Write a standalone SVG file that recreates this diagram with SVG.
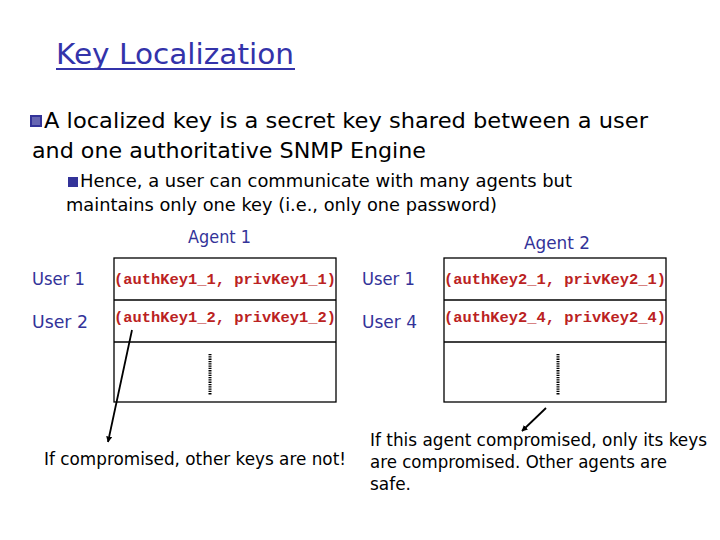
<svg xmlns="http://www.w3.org/2000/svg" width="720" height="540" viewBox="0 0 720 540">
<style>
.t{font-family:"DejaVu Sans","Liberation Sans",sans-serif}
.blue{fill:#333399}
.key{font-family:"Liberation Mono",monospace;font-weight:bold;font-size:15px;fill:#bb2222}
.tab{fill:none;stroke:#000;stroke-width:1.3}
.bul{fill:#333399}
</style>
<defs>
<marker id="ah" viewBox="0 0 10 10" refX="9" refY="5" markerWidth="6" markerHeight="6" orient="auto" markerUnits="userSpaceOnUse">
<path d="M0,0 L10,5 L0,10 z" fill="#000"/>
</marker>
</defs>
<rect width="720" height="540" fill="#fff"/>
<g id="title">
<text class="t" x="56" y="64" font-size="28" fill="#3333aa" textLength="238" lengthAdjust="spacingAndGlyphs">Key Localization</text>
<rect x="56" y="68" width="239" height="2" fill="#3333aa"/>
</g>
<g id="bullets">
<rect class="bul" x="30" y="115" width="12" height="12"/>
<rect x="32" y="117" width="8" height="8" fill="#fff" opacity="0.25"/>
<text class="t" x="44" y="128" font-size="22" textLength="604" lengthAdjust="spacingAndGlyphs">A localized key is a secret key shared between a user</text>
<text class="t" x="32" y="158" font-size="22" textLength="394" lengthAdjust="spacingAndGlyphs">and one authoritative SNMP Engine</text>
<rect class="bul" x="68" y="177" width="10" height="10"/>
<text class="t" x="80" y="187" font-size="17" textLength="492" lengthAdjust="spacingAndGlyphs">Hence, a user can communicate with many agents but</text>
<text class="t" x="66" y="211" font-size="17" textLength="431" lengthAdjust="spacingAndGlyphs">maintains only one key (i.e., only one password)</text>
</g>
<g id="agent1">
<text class="t blue" x="188" y="243" font-size="17" textLength="63" lengthAdjust="spacingAndGlyphs">Agent 1</text>
<text class="t blue" x="32" y="285" font-size="17" textLength="53" lengthAdjust="spacingAndGlyphs">User 1</text>
<text class="t blue" x="32" y="328" font-size="17" textLength="56" lengthAdjust="spacingAndGlyphs">User 2</text>
<rect class="tab" x="114" y="258" width="222" height="144"/>
<line class="tab" x1="114" y1="300" x2="336" y2="300"/>
<line class="tab" x1="114" y1="342" x2="336" y2="342"/>
<text class="key" x="114" y="284" textLength="222" lengthAdjust="spacingAndGlyphs">(authKey1_1, privKey1_1)</text>
<text class="key" x="114" y="322" textLength="222" lengthAdjust="spacingAndGlyphs">(authKey1_2, privKey1_2)</text>
<line x1="210" y1="354" x2="210" y2="395" stroke="#000" stroke-width="3" stroke-dasharray="1.3,1"/>
</g>
<g id="agent2">
<text class="t blue" x="524" y="249" font-size="17" textLength="66" lengthAdjust="spacingAndGlyphs">Agent 2</text>
<text class="t blue" x="362" y="285" font-size="17" textLength="53" lengthAdjust="spacingAndGlyphs">User 1</text>
<text class="t blue" x="362" y="328" font-size="17" textLength="55" lengthAdjust="spacingAndGlyphs">User 4</text>
<rect class="tab" x="444" y="258" width="222" height="144"/>
<line class="tab" x1="444" y1="300" x2="666" y2="300"/>
<line class="tab" x1="444" y1="342" x2="666" y2="342"/>
<text class="key" x="444" y="284" textLength="222" lengthAdjust="spacingAndGlyphs">(authKey2_1, privKey2_1)</text>
<text class="key" x="444" y="322" textLength="222" lengthAdjust="spacingAndGlyphs">(authKey2_4, privKey2_4)</text>
<line x1="558" y1="354" x2="558" y2="395" stroke="#000" stroke-width="3" stroke-dasharray="1.3,1"/>
</g>
<g id="notes">
<text class="t" x="44" y="465" font-size="17" textLength="302" lengthAdjust="spacingAndGlyphs">If compromised, other keys are not!</text>
<text class="t" x="370" y="446" font-size="17" textLength="337" lengthAdjust="spacingAndGlyphs">If this agent compromised, only its keys</text>
<text class="t" x="370" y="468" font-size="17" textLength="297" lengthAdjust="spacingAndGlyphs">are compromised. Other agents are</text>
<text class="t" x="370" y="490" font-size="17" textLength="41" lengthAdjust="spacingAndGlyphs">safe.</text>
</g>
<g id="connectors" stroke="#000" stroke-width="1.8" fill="none">
<line x1="132" y1="330" x2="108" y2="442" marker-end="url(#ah)"/>
<line x1="546" y1="408" x2="522" y2="431" marker-end="url(#ah)"/>
</g>
</svg>
